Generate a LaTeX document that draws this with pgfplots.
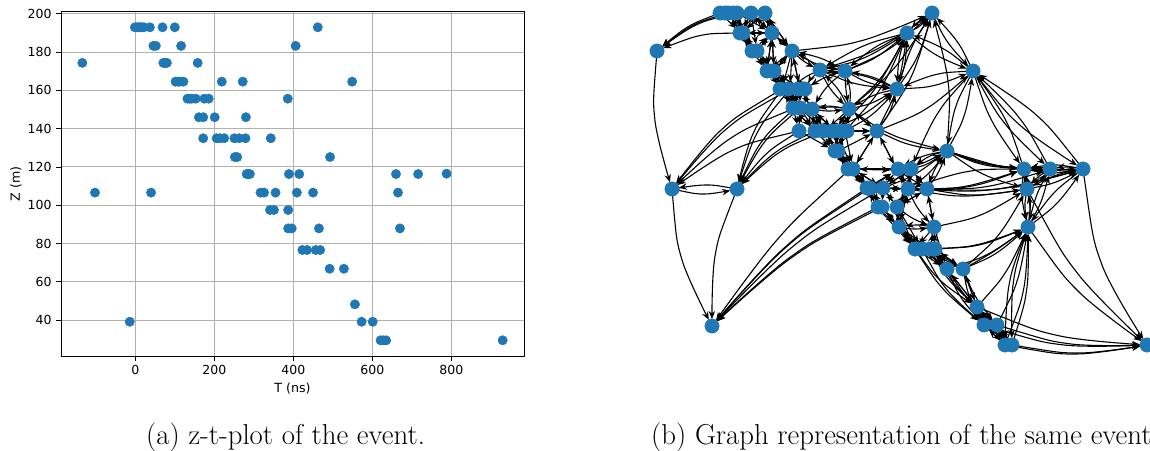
\documentclass[border=0pt]{standalone}
\usepackage{fontspec}
\usepackage{pgfplots}
\pgfplotsset{compat=1.18}
\usetikzlibrary{arrows.meta}
\newfontfamily\dejavu{DejaVu Sans}
\definecolor{mplblue}{HTML}{1F77B4}
\definecolor{mplgrid}{HTML}{B0B0B0}
\newcommand\Eg[6]{\addplot[edge,smooth,forget plot] coordinates {(#1,#2)(#3,#4)(#5,#6)};}
\newcommand\Sg[4]{\addplot[edge,forget plot] coordinates {(#1,#2)(#3,#4)};}
\tikzset{edge/.style={black,line width=1.1pt,-{Stealth[length=8pt,width=6.5pt]},shorten >=7pt,shorten <=5pt}}
\begin{document}
\begin{tikzpicture}[x=1pt,y=1pt]
\path[use as bounding box] (0,0) rectangle (1150,450);
\clip (0,0) rectangle (1150,450);
\begin{axis}[
  at={(61pt,94pt)},anchor=south west,scale only axis,width=463pt,height=344pt,
  xmin=-188,xmax=984,ymin=21.2,ymax=201,
  xtick={0,200,400,600,800},ytick={40,60,80,100,120,140,160,180,200},
  grid=major,grid style={mplgrid,line width=1pt},
  axis line style={black,line width=1pt},
  tick style={black,line width=0.9pt},
  tick align=outside,tick pos=left,
  major tick length=5pt,
  /pgf/number format/assume math mode=true,
  tick label style={font=\dejavu\fontsize{12.5}{15}\selectfont},
  xticklabel style={yshift=-1pt},
  yticklabel style={xshift=-1pt},
  label style={font=\dejavu\fontsize{12.6}{14}\selectfont},
  xlabel={T (ns)},ylabel={Z (m)},
  xlabel style={at={(axis description cs:0.5,0)},anchor=base,yshift=-36.5pt},
  ylabel style={at={(axis description cs:0,0.5)},anchor=base,rotate=0,yshift=41pt},
]
\addplot[only marks,mark=*,mark size=4.7pt,mark options={draw=none,fill=mplblue},color=mplblue] table {
T Z
-1 193
4 193
8 193
12 193
16 193
22 193
37 193
69 193
100 193
462 193
46 183.3
52 183.3
116 183.3
406 183.3
-134 174.4
71 174.4
75 174.4
80 174.4
158 174.4
102 164.6
108 164.6
113 164.6
122 164.6
219 164.6
272 164.6
549 164.6
132 155.7
138 155.7
143 155.7
153 155.7
175 155.7
186 155.7
386 155.7
161 146
172 146
201 146
280 146
172 135
206 135
214 135
225 135
251 135
263 135
279 135
343 135
252 125.2
258 125.2
493 125.2
282 116.3
286 116.3
290 116.3
389 116.3
415 116.3
660 116.3
716 116.3
788 116.5
-102 106.6
40 106.6
317 106.6
326 106.6
355 106.6
409 106.6
450 106.6
665 106.6
341 97.5
351 97.5
387 97.5
387 87.9
396 87.9
465 87.9
670 87.9
423 76.6
435 76.6
457 76.6
468 76.6
492 66.8
528 66.8
556 48.2
-14 39.1
573 39.1
601 39.1
621 29.4
628 29.4
635 29.4
930 29.4
};
\end{axis}
\begin{axis}[
  at={(0pt,0pt)},anchor=south west,scale only axis,width=1150pt,height=450pt,
  xmin=0,xmax=1150,ymin=0,ymax=450,y dir=reverse,hide axis,clip=false]
% long edges, left side
\Eg{720}{13}{686}{28}{657}{51}
\Eg{728}{13}{690}{27}{657}{51}
\Eg{737}{13}{694}{26}{657}{51}
\Eg{741}{33}{698}{36}{657}{51}
\Eg{657}{51}{655}{121}{672}{189}
\Eg{782}{89}{720}{131}{672}{189}
\Eg{790}{89}{724}{131}{672}{189}
\Eg{795}{108}{728}{140}{672}{189}
\Eg{799}{131}{731}{151}{672}{189}
\Eg{782}{89}{752}{136}{737}{189}
\Eg{790}{89}{756}{135}{737}{189}
\Eg{795}{108}{760}{144}{737}{189}
\Eg{800}{108}{763}{144}{737}{189}
\Eg{799}{131}{764}{156}{737}{189}
\Eg{815}{131}{772}{155}{737}{189}
\Eg{825}{131}{777}{154}{737}{189}
\Eg{672}{189}{705}{194}{737}{189}
\Eg{737}{189}{705}{185}{672}{189}
\Eg{672}{189}{682}{260}{712}{326}
\Eg{737}{189}{715}{256}{712}{326}
\Eg{850}{169}{776}{241}{712}{326}
\Eg{867}{188}{783}{249}{712}{326}
\Eg{870}{188}{784}{249}{712}{326}
\Eg{883}{188}{791}{248}{712}{326}
\Eg{878}{207}{789}{258}{712}{326}
\Eg{882}{207}{791}{258}{712}{326}
% long edges, right side
\Eg{1083}{169}{1102}{265}{1147}{345}
\Eg{1027}{189}{1078}{274}{1147}{345}
\Eg{1028}{227}{1080}{293}{1147}{345}
\Eg{1012}{345}{1080}{353}{1147}{345}
\Eg{1005}{345}{1076}{354}{1147}{345}
\Eg{997}{325}{1071}{344}{1147}{345}
\Eg{984}{325}{1064}{345}{1147}{345}
\Eg{977}{307}{1060}{336}{1147}{345}
\Eg{1028}{227}{1013}{285}{1012}{345}
\Eg{1028}{227}{1009}{285}{1005}{345}
\Eg{1012}{345}{1027}{287}{1028}{227}
\Eg{1005}{345}{1024}{287}{1028}{227}
\Eg{977}{307}{1007}{270}{1028}{227}
\Eg{997}{325}{1018}{278}{1028}{227}
\Eg{963}{269}{998}{252}{1028}{227}
\Eg{963}{269}{996}{250}{1028}{227}
\Eg{947}{269}{990}{253}{1028}{227}
\Eg{935}{249}{983}{244}{1028}{227}
\Eg{930}{249}{980}{244}{1028}{227}
\Eg{934}{227}{983}{214}{1027}{189}
\Eg{963}{269}{1000}{233}{1027}{189}
\Eg{908}{189}{967}{196}{1027}{189}
\Eg{927}{189}{977}{195}{1027}{189}
\Eg{908}{189}{967}{186}{1024}{169}
\Eg{927}{189}{977}{185}{1024}{169}
\Eg{927}{189}{990}{186}{1050}{169}
\Eg{908}{189}{997}{189}{1083}{169}
\Eg{927}{189}{1006}{188}{1083}{169}
\Eg{1024}{169}{965}{172}{908}{189}
\Eg{947}{151}{985}{165}{1024}{169}
\Eg{947}{151}{986}{164}{1024}{168}
\Eg{947}{151}{998}{166}{1050}{169}
\Eg{947}{151}{1014}{168}{1083}{169}
\Eg{947}{151}{985}{175}{1027}{189}
\Eg{1024}{169}{1037}{171}{1050}{169}
\Eg{1050}{169}{1037}{167}{1024}{169}
\Eg{1050}{169}{1066}{171}{1083}{169}
\Eg{1083}{169}{1066}{167}{1050}{169}
\Eg{1083}{169}{1053}{165}{1024}{169}
\Eg{1024}{169}{1053}{173}{1083}{169}
\Sg{1027}{189}{1024}{169}
\Sg{1024}{169}{1027}{189}
\Eg{1028}{227}{1030}{208}{1027}{189}
\Eg{1027}{189}{1025}{208}{1028}{227}
\Eg{1028}{227}{1030}{198}{1024}{169}
\Eg{1024}{169}{1022}{198}{1028}{227}
\Eg{1028}{227}{1042}{199}{1050}{169}
\Eg{1050}{169}{1036}{197}{1028}{227}
\Eg{1028}{227}{1059}{201}{1083}{169}
\Eg{1083}{169}{1052}{195}{1028}{227}
\Eg{1027}{189}{1040}{180}{1050}{169}
\Eg{1050}{169}{1037}{178}{1027}{189}
\Eg{1027}{189}{1056}{182}{1083}{169}
\Eg{1083}{169}{1054}{176}{1027}{189}
% upper right
\Eg{973}{71}{993}{123}{1024}{169}
\Eg{1024}{169}{1004}{117}{973}{71}
\Eg{973}{71}{1006}{125}{1050}{169}
\Eg{1050}{169}{1017}{115}{973}{71}
\Eg{973}{71}{1022}{127}{1083}{169}
\Eg{1083}{169}{1034}{113}{973}{71}
\Eg{973}{71}{956}{40}{932}{13}
\Eg{932}{13}{949}{44}{973}{71}
\Eg{973}{71}{942}{48}{907}{33}
\Eg{907}{33}{938}{56}{973}{71}
\Eg{973}{71}{934}{75}{897}{89}
\Eg{897}{89}{936}{85}{973}{71}
\Eg{947}{151}{965}{113}{973}{71}
\Eg{973}{71}{955}{109}{947}{151}
\Eg{947}{151}{948}{81}{932}{13}
\Eg{877}{131}{929}{107}{973}{71}
\Eg{973}{71}{936}{116}{911}{169}
\Eg{897}{89}{919}{53}{932}{13}
\Eg{897}{89}{905}{62}{907}{33}
\Eg{907}{33}{899}{60}{897}{89}
\Eg{907}{33}{921}{25}{932}{13}
\Eg{932}{13}{918}{22}{907}{33}
\Eg{932}{13}{911}{49}{897}{89}
\Eg{792}{51}{864}{40}{932}{13}
\Eg{820}{70}{879}{48}{932}{13}
\Eg{845}{71}{892}{47}{932}{13}
\Eg{820}{70}{866}{57}{907}{33}
\Eg{845}{71}{878}{56}{907}{33}
\Eg{907}{33}{861}{47}{820}{70}
\Eg{907}{33}{874}{48}{845}{71}
\Eg{849}{109}{896}{66}{932}{13}
\Eg{849}{109}{883}{75}{907}{33}
\Eg{877}{131}{912}{75}{932}{13}
\Eg{877}{131}{898}{84}{907}{33}
\Eg{877}{131}{890}{111}{897}{89}
\Eg{845}{131}{882}{86}{907}{33}
\Eg{835}{131}{877}{86}{907}{33}
\Eg{825}{131}{864}{114}{897}{89}
\Eg{845}{131}{874}{113}{897}{89}
\Eg{849}{109}{874}{102}{897}{89}
\Eg{897}{89}{872}{96}{849}{109}
\Eg{845}{71}{870}{83}{897}{89}
\Eg{820}{70}{857}{84}{897}{89}
\Eg{897}{89}{860}{75}{820}{70}
\Eg{897}{89}{872}{77}{845}{71}
\Eg{845}{71}{846}{90}{849}{109}
\Eg{849}{109}{850}{90}{845}{71}
\Eg{820}{70}{832}{73}{845}{71}
\Eg{845}{71}{832}{68}{820}{70}
\Eg{820}{70}{832}{91}{849}{109}
\Eg{849}{109}{837}{88}{820}{70}
\Eg{792}{51}{805}{62}{820}{70}
\Eg{820}{70}{807}{59}{792}{51}
\Eg{792}{51}{817}{64}{845}{71}
\Eg{845}{71}{820}{58}{792}{51}
\Eg{845}{71}{824}{78}{805}{89}
\Eg{820}{70}{811}{79}{805}{89}
\Eg{820}{70}{804}{78}{790}{89}
\Eg{845}{71}{826}{88}{812}{109}
\Eg{849}{109}{830}{107}{812}{109}
\Eg{812}{109}{830}{111}{849}{109}
\Eg{849}{109}{825}{106}{800}{108}
\Eg{877}{131}{911}{145}{947}{151}
\Eg{849}{109}{895}{136}{947}{151}
\Eg{947}{151}{921}{157}{898}{169}
\Eg{947}{151}{928}{157}{911}{169}
\Eg{898}{169}{923}{163}{947}{151}
\Eg{911}{169}{929}{163}{947}{151}
\Eg{908}{189}{930}{172}{947}{151}
\Eg{927}{189}{939}{171}{947}{151}
\Eg{947}{151}{935}{169}{927}{189}
\Eg{883}{188}{917}{173}{947}{151}
% chain, short edges
\Sg{720}{13}{741}{33}
\Sg{728}{13}{741}{33}
\Sg{737}{13}{741}{33}
\Sg{751}{13}{741}{33}
\Sg{741}{33}{728}{13}
\Sg{741}{33}{737}{13}
\Sg{741}{33}{751}{13}
\Sg{741}{33}{765}{13}
\Sg{765}{13}{741}{33}
\Sg{737}{13}{772}{33}
\Sg{751}{13}{772}{33}
\Sg{765}{13}{772}{33}
\Sg{772}{33}{765}{13}
\Sg{772}{33}{751}{13}
\Sg{741}{33}{772}{33}
\Sg{772}{33}{741}{33}
\Sg{765}{13}{792}{51}
\Sg{751}{13}{792}{51}
\Sg{792}{51}{765}{13}
\Sg{772}{33}{792}{51}
\Sg{792}{51}{772}{33}
\Sg{741}{33}{752}{51}
\Sg{741}{33}{757}{51}
\Sg{752}{51}{741}{33}
\Sg{757}{51}{741}{33}
\Sg{772}{33}{757}{51}
\Sg{757}{51}{772}{33}
\Sg{752}{51}{772}{33}
\Sg{737}{13}{752}{51}
\Sg{751}{13}{757}{51}
\Sg{752}{51}{767}{71}
\Sg{757}{51}{767}{71}
\Sg{757}{51}{774}{71}
\Sg{767}{71}{757}{51}
\Sg{774}{71}{757}{51}
\Sg{792}{51}{774}{71}
\Sg{774}{71}{792}{51}
\Sg{792}{51}{767}{71}
\Sg{772}{33}{767}{71}
\Sg{772}{33}{774}{71}
\Sg{774}{71}{772}{33}
\Sg{767}{71}{772}{33}
\Sg{767}{71}{782}{89}
\Sg{767}{71}{790}{89}
\Sg{774}{71}{782}{89}
\Sg{774}{71}{790}{89}
\Sg{774}{71}{800}{89}
\Sg{782}{89}{774}{71}
\Sg{790}{89}{774}{71}
\Sg{800}{89}{774}{71}
\Sg{792}{51}{782}{89}
\Sg{792}{51}{790}{89}
\Sg{792}{51}{800}{89}
\Sg{800}{89}{792}{51}
\Sg{782}{89}{793}{108}
\Sg{782}{89}{800}{108}
\Sg{790}{89}{793}{108}
\Sg{790}{89}{800}{108}
\Sg{800}{89}{793}{108}
\Sg{800}{89}{800}{108}
\Sg{800}{89}{812}{109}
\Sg{793}{108}{782}{89}
\Sg{800}{108}{790}{89}
\Sg{812}{109}{800}{89}
\Sg{793}{108}{799}{131}
\Sg{793}{108}{815}{131}
\Sg{800}{108}{799}{131}
\Sg{800}{108}{815}{131}
\Sg{800}{108}{825}{131}
\Sg{812}{109}{815}{131}
\Sg{812}{109}{825}{131}
\Sg{812}{109}{835}{131}
\Sg{799}{131}{800}{108}
\Sg{815}{131}{793}{108}
\Sg{815}{131}{812}{109}
\Sg{825}{131}{812}{109}
\Sg{835}{131}{812}{109}
\Sg{849}{109}{825}{131}
\Sg{849}{109}{835}{131}
\Sg{849}{109}{845}{131}
\Sg{835}{131}{849}{109}
\Sg{845}{131}{849}{109}
\Sg{877}{131}{849}{109}
\Sg{849}{109}{877}{131}
\Sg{845}{131}{877}{131}
\Sg{835}{131}{877}{131}
\Sg{799}{131}{835}{151}
\Sg{815}{131}{835}{151}
\Sg{825}{131}{835}{151}
\Sg{835}{131}{838}{151}
\Sg{845}{131}{838}{151}
\Sg{835}{151}{825}{131}
\Sg{838}{151}{835}{131}
\Sg{838}{151}{845}{131}
\Sg{825}{131}{848}{169}
\Sg{835}{131}{853}{169}
\Sg{845}{131}{853}{169}
\Sg{835}{151}{848}{169}
\Sg{835}{151}{853}{169}
\Sg{838}{151}{848}{169}
\Sg{838}{151}{853}{169}
\Sg{848}{169}{838}{151}
\Sg{853}{169}{835}{151}
\Sg{877}{131}{853}{169}
\Sg{877}{131}{897}{170}
\Sg{897}{170}{877}{131}
\Sg{853}{169}{877}{131}
\Sg{838}{151}{877}{131}
\Sg{853}{169}{897}{170}
\Sg{853}{169}{911}{169}
\Sg{848}{169}{897}{170}
\Sg{897}{170}{853}{169}
\Sg{848}{169}{867}{188}
\Sg{848}{169}{870}{188}
\Sg{853}{169}{867}{188}
\Sg{853}{169}{870}{188}
\Sg{853}{169}{883}{188}
\Sg{867}{188}{853}{169}
\Sg{870}{188}{848}{169}
\Sg{883}{188}{853}{169}
\Sg{867}{188}{897}{170}
\Sg{870}{188}{897}{170}
\Sg{883}{188}{897}{170}
\Sg{897}{170}{883}{188}
\Sg{883}{188}{911}{169}
\Sg{911}{169}{883}{188}
\Sg{867}{188}{908}{189}
\Sg{870}{188}{908}{189}
\Sg{883}{188}{908}{189}
\Sg{908}{189}{883}{188}
\Sg{883}{188}{927}{189}
\Sg{897}{170}{908}{189}
\Sg{908}{189}{897}{170}
\Sg{911}{169}{908}{189}
\Sg{908}{189}{911}{169}
\Sg{897}{170}{927}{189}
\Sg{911}{169}{927}{189}
\Sg{927}{189}{911}{169}
\Sg{867}{188}{877}{207}
\Sg{870}{188}{882}{207}
\Sg{883}{188}{882}{207}
\Sg{877}{207}{867}{188}
\Sg{882}{207}{870}{188}
\Sg{883}{188}{897}{207}
\Sg{897}{207}{883}{188}
\Sg{908}{189}{897}{207}
\Sg{897}{207}{908}{189}
\Sg{927}{189}{897}{207}
\Sg{897}{207}{927}{189}
\Sg{877}{207}{899}{227}
\Sg{882}{207}{899}{227}
\Sg{897}{207}{899}{227}
\Sg{899}{227}{897}{207}
\Sg{899}{227}{882}{207}
\Sg{908}{189}{899}{227}
\Sg{899}{227}{908}{189}
\Sg{927}{189}{934}{227}
\Sg{934}{227}{927}{189}
\Eg{908}{189}{919}{210}{934}{227}
\Eg{897}{207}{914}{219}{934}{227}
\Eg{899}{227}{916}{229}{934}{227}
\Eg{934}{227}{916}{225}{899}{227}
\Sg{877}{207}{915}{249}
\Sg{882}{207}{915}{249}
\Sg{899}{227}{915}{249}
\Sg{899}{227}{922}{249}
\Sg{899}{227}{930}{249}
\Sg{915}{249}{899}{227}
\Sg{922}{249}{899}{227}
\Sg{897}{207}{915}{249}
\Sg{897}{207}{922}{249}
\Sg{930}{249}{934}{227}
\Sg{935}{249}{934}{227}
\Sg{934}{227}{935}{249}
\Sg{934}{227}{915}{249}
\Sg{934}{227}{947}{269}
\Sg{935}{249}{947}{269}
\Sg{930}{249}{947}{269}
\Sg{922}{249}{947}{269}
\Sg{915}{249}{947}{269}
\Sg{947}{269}{922}{249}
\Sg{947}{269}{935}{249}
\Sg{935}{249}{963}{269}
\Sg{930}{249}{963}{269}
\Sg{922}{249}{963}{269}
\Sg{963}{269}{935}{249}
\Eg{915}{249}{945}{291}{984}{325}
\Eg{922}{249}{948}{291}{984}{325}
\Eg{915}{249}{942}{282}{977}{307}
\Eg{930}{249}{950}{281}{977}{307}
\Eg{935}{249}{952}{281}{977}{307}
\Eg{947}{269}{962}{299}{984}{325}
\Eg{947}{269}{969}{300}{997}{325}
\Eg{963}{269}{970}{298}{984}{325}
\Eg{963}{269}{977}{299}{997}{325}
\Sg{947}{269}{977}{307}
\Sg{963}{269}{977}{307}
\Sg{977}{307}{963}{269}
\Sg{977}{307}{947}{269}
\Sg{977}{307}{984}{325}
\Sg{977}{307}{997}{325}
\Sg{984}{325}{977}{307}
\Sg{997}{325}{977}{307}
\Sg{977}{307}{1005}{345}
\Sg{977}{307}{1012}{345}
\Sg{984}{325}{1005}{345}
\Sg{984}{325}{1012}{345}
\Sg{1005}{345}{984}{325}
\Sg{997}{325}{1005}{345}
\Sg{997}{325}{1012}{345}
\Sg{1012}{345}{997}{325}
\Sg{1005}{345}{977}{307}
% nodes
\addplot[only marks,mark=*,mark size=7.2pt,mark options={draw=none,fill=mplblue},color=mplblue] table {
x y
657 51
720 13
725 13
728 13
733 13
737 13
751 13
765 13
740 33
743 33
772 33
752 51
757 51
792 51
767 71
771 71
774 71
820 70
845 71
780 89
788 89
798 89
805 89
897 89
793 108
800 108
812 109
849 109
799 131
815 131
823 131
832 131
840 131
847 131
877 131
835 151
838 151
947 151
848 169
853 169
932 13
907 33
973 71
898 169
911 169
1024 169
1050 169
1083 169
672 189
737 189
712 326
867 188
870 188
883 188
878 207
882 207
897 207
908 189
927 189
899 227
934 227
915 249
922 249
930 249
935 249
947 269
963 269
1027 189
1028 227
977 307
984 325
997 325
1005 345
1012 345
1147 345
};
\end{axis}
\node[anchor=base west,inner sep=0pt] at (146,6) {\fontsize{28.8}{32}\selectfont (a) z-t-plot of the event.};
\node[anchor=base west,inner sep=0pt] at (651,6) {\fontsize{28.8}{32}\selectfont (b) Graph representation of the same event.};
\end{tikzpicture}
\end{document}
